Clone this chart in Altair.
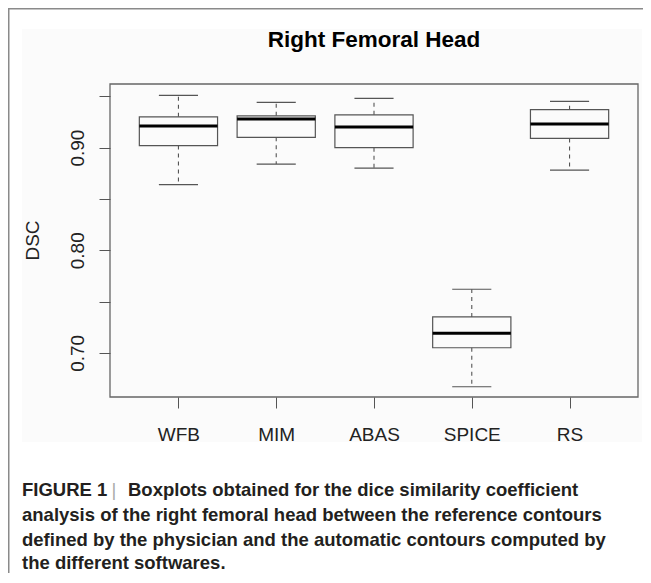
import altair as alt
import pandas as pd

# ---- data ----
categories = ["WFB", "MIM", "ABAS", "SPICE", "RS"]
positions = [1, 2, 3, 4, 5]
lower_whisker = [0.864, 0.884, 0.880, 0.667, 0.878]
q1 = [0.902, 0.910, 0.900, 0.705, 0.909]
median = [0.921, 0.928, 0.920, 0.719, 0.923]
q3 = [0.930, 0.931, 0.932, 0.735, 0.937]
upper_whisker = [0.951, 0.944, 0.948, 0.762, 0.945]

y_ticks = [0.70, 0.75, 0.80, 0.85, 0.90, 0.95]
title_text = "Right Femoral Head"
y_title = "DSC"
caption_fig = "FIGURE 1"
caption_lines = [
    "Boxplots obtained for the dice similarity coefficient",
    "analysis of the right femoral head between the reference contours",
    "defined by the physician and the automatic contours computed by",
    "the different softwares.",
]

df = pd.DataFrame({
    "cat": categories, "pos": positions, "lo": lower_whisker, "q1": q1,
    "med": median, "q3": q3, "hi": upper_whisker,
})
one = pd.DataFrame({"a": [0]})

W, H = 528, 313
PAD_L, PAD_T, PAD_R, PAD_B = 102, 76, 5, 176
FONT = "Liberation Sans"
TXT = "#222222"
LINE = "#555555"
CAP = "#231f20"

xs = alt.Scale(domain=[0.3, 5.7], nice=False, zero=False)
ys = alt.Scale(domain=[0.657, 0.962], nice=False, zero=False)

label_arr = "[" + ",".join("'" + c + "'" for c in categories) + "]"
x_axis = alt.Axis(values=positions, labelExpr=label_arr + "[datum.value-1]",
                  domain=False, grid=False, tickSize=11, tickColor=LINE,
                  tickWidth=1, labelFont=FONT, labelFontSize=19,
                  labelColor=TXT, labelPadding=17, zindex=2)
y_axis = alt.Axis(values=y_ticks,
                  labelExpr="round(datum.value*100) % 10 == 0 ? format(datum.value, '.2f') : ''",
                  domain=False, grid=False, tickSize=11, tickColor=LINE,
                  tickWidth=1, labelFont=FONT, labelFontSize=19,
                  labelColor=TXT, labelAngle=270, labelAlign="center",
                  labelBaseline="alphabetic", labelPadding=16, zindex=2)


def X(field):
    return alt.X(field, type="quantitative", scale=xs, axis=x_axis, title=None)


def Y(field):
    return alt.Y(field, type="quantitative", scale=ys, axis=y_axis, title=None)


base = alt.Chart(df).transform_calculate(
    xl="datum.pos - 0.4", xr="datum.pos + 0.4",
    cl="datum.pos - 0.2", cr="datum.pos + 0.2")

bg = alt.Chart(one).mark_rect(fill="#fbfbfb").encode(
    x=alt.value(-88), x2=alt.value(532), y=alt.value(-55), y2=alt.value(358))

frame_left = alt.Chart(one).mark_rule(color="#8a8a8a", strokeWidth=1.5).encode(
    x=alt.value(-PAD_L + 0.75), y=alt.value(-PAD_T), y2=alt.value(H + PAD_B))
frame_top = alt.Chart(one).mark_rule(color="#8a8a8a", strokeWidth=1.5).encode(
    x=alt.value(-PAD_L), x2=alt.value(W + PAD_R), y=alt.value(-PAD_T + 0.75))

plot_box = alt.Chart(one).mark_rect(fill="white", fillOpacity=0, stroke="#666666",
                                     strokeWidth=1.3).encode(
    x=alt.value(0), x2=alt.value(W), y=alt.value(0), y2=alt.value(H))

whisk_hi = base.mark_rule(color=LINE, strokeWidth=1.1, strokeDash=[4, 4]).encode(
    x=X("pos"), y=Y("q3"), y2="hi:Q")
whisk_lo = base.mark_rule(color=LINE, strokeWidth=1.1, strokeDash=[4, 4]).encode(
    x=X("pos"), y=Y("q1"), y2="lo:Q")
cap_hi = base.mark_rule(color=LINE, strokeWidth=1.2).encode(
    x=X("cl"), x2="cr:Q", y=Y("hi"))
cap_lo = base.mark_rule(color=LINE, strokeWidth=1.2).encode(
    x=X("cl"), x2="cr:Q", y=Y("lo"))
boxes = base.mark_rect(fill="white", fillOpacity=0, stroke=LINE, strokeWidth=1.2).encode(
    x=X("xl"), x2="xr:Q", y=Y("q1"), y2="q3:Q")
medians = base.mark_rule(color="black", strokeWidth=3).encode(
    x=X("xl"), x2="xr:Q", y=Y("med"))

title = alt.Chart(one).mark_text(text=title_text, font=FONT, fontSize=22.5,
                                 fontWeight="bold", color="black",
                                 align="center", baseline="alphabetic").encode(
    x=alt.value(W / 2), y=alt.value(-37))
ytitle = alt.Chart(one).mark_text(text=y_title, font=FONT, fontSize=19,
                                  color=TXT, angle=270, align="center",
                                  baseline="middle").encode(
    x=alt.value(-77), y=alt.value(H / 2))

cap_layers = [
    alt.Chart(one).mark_text(text=caption_fig, font=FONT, fontSize=18.5,
                             fontWeight="bold", color=CAP, align="left",
                             baseline="middle").encode(
        x=alt.value(-88), y=alt.value(406)),
    alt.Chart(one).mark_text(text="|", font=FONT, fontSize=18.5,
                             color="#aaaaaa", align="center",
                             baseline="middle").encode(
        x=alt.value(4), y=alt.value(406)),
]
cap_x = [18, -88, -88, -88]
cap_y = [406, 431, 456, 479]
for t, cx, cy in zip(caption_lines, cap_x, cap_y):
    cap_layers.append(
        alt.Chart(one).mark_text(text=t, font=FONT, fontSize=18.5,
                                 fontWeight="bold", color=CAP, align="left",
                                 baseline="middle").encode(
            x=alt.value(cx), y=alt.value(cy)))

chart = alt.layer(
    bg, frame_left, frame_top, plot_box, whisk_hi, whisk_lo, cap_hi, cap_lo,
    boxes, medians, title, ytitle, *cap_layers
).properties(
    width=W, height=H,
    autosize=alt.AutoSizeParams(type="none"),
    padding={"left": PAD_L, "top": PAD_T, "right": PAD_R, "bottom": PAD_B},
).configure_view(strokeWidth=0)

chart.save("out.html", embed_options={"renderer": "svg", "actions": False})
